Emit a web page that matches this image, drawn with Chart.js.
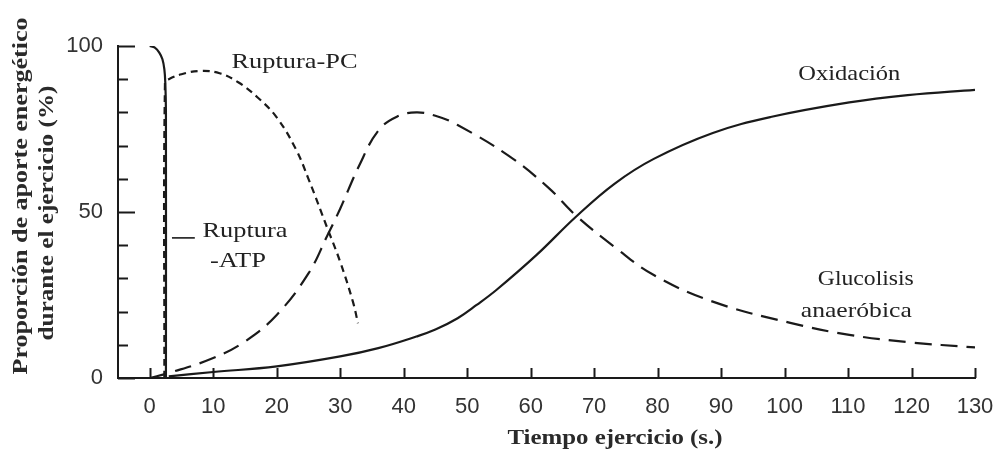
<!DOCTYPE html>
<html>
<head>
<meta charset="utf-8">
<script src="https://cdn.jsdelivr.net/npm/chart.js@4.4.1/dist/chart.umd.min.js"></script>
<style>
  html, body { margin: 0; padding: 0; background: #fff; }
  #wrap { width: 994px; height: 453px; }
</style>
</head>
<body>
<div id="wrap"><canvas id="chart"></canvas></div>
<script>
// Tiempo de ejercicio (s) y proporción de aporte energético (%) de cada vía
const atpTime = [0, 0.8, 1.5, 2, 2.3, 2.45, 2.55, 2.55];
const atpValue = [100, 99.5, 98, 96, 93, 89, 80, 0];

const pcTime = [2.3, 2.4, 3, 5, 8, 11, 14, 17, 20, 23, 25, 28, 30, 32, 32.8];
const pcValue = [0, 89, 90, 91.5, 92.5, 91.8, 89, 84.5, 78.5, 69, 60, 45, 35, 23, 16.5];

const glucTime = [0, 3, 10, 15, 20, 25, 28, 30, 33, 36, 39, 42, 45, 48.5, 56.5, 62.7, 67.1, 73.2, 79.4, 88.7, 100.9, 110.2, 119.4, 130];
const glucValue = [0, 1.5, 6, 11, 19, 31.5, 43, 51, 64, 74.5, 78.8, 80, 79, 76.2, 67, 57.5, 49, 39.5, 31, 23, 16.6, 13, 10.8, 9.2];

const oxTime = [3, 10, 20, 30, 36, 42, 45, 48.5, 51.5, 54.6, 60.9, 67.1, 73.2, 79.4, 88.7, 97.8, 110.2, 119.4, 130];
const oxValue = [0.5, 1.8, 3.5, 6.5, 9, 12.5, 14.6, 18, 22, 26.5, 37, 48.5, 58.5, 66, 73.8, 78.6, 83, 85.2, 86.8];

// ticks
const xTickValues = [0, 10, 20, 30, 40, 50, 60, 70, 80, 90, 100, 110, 120, 130];
const yTickValues = [0, 10, 20, 30, 40, 50, 60, 70, 80, 90, 100];
const yLabelValues = [0, 50, 100];

// text labels on the chart (x in s, y in %)
const notes = [
  { text: "Ruptura-PC", x: 22.8, y: 95.2, w: 126 },
  { text: "Oxidación", x: 110.2, y: 91.6, w: 102 },
  { text: "Ruptura", x: 15.0, y: 44.3, w: 85 },
  { text: "-ATP", x: 13.9, y: 35.2, w: 56 },
  { text: "Glucolisis", x: 112.8, y: 29.8, w: 96 },
  { text: "anaeróbica", x: 111.3, y: 20.2, w: 111 },
];

const ink = "#1a1a1a";
const serif = '"Liberation Serif", "Times New Roman", serif';
const sans = '"Liberation Sans", Arial, sans-serif';

function toPoints(xs, ys) {
  return xs.map((x, i) => ({ x: x, y: ys[i] }));
}

// draw text stretched to a given width (the scan is a bit stretched)
function fitText(ctx, text, cx, cy, width, font, angle) {
  ctx.save();
  ctx.translate(cx, cy);
  if (angle) ctx.rotate(angle);
  ctx.font = font;
  const w = ctx.measureText(text).width;
  ctx.scale(width / w, 1);
  ctx.textAlign = "center";
  ctx.textBaseline = "middle";
  ctx.fillText(text, 0, 0);
  ctx.restore();
}

const decorPlugin = {
  id: "decor",
  afterDraw(chart) {
    const { ctx, scales: { x, y } } = chart;
    ctx.save();
    ctx.strokeStyle = ink;
    ctx.lineWidth = 2;

    // tick marks pointing into the plot
    ctx.beginPath();
    xTickValues.forEach((v) => {
      const px = Math.round(x.getPixelForValue(v)) + 0.5;
      ctx.moveTo(px, y.bottom);
      ctx.lineTo(px, y.bottom - 10);
    });
    yTickValues.forEach((v) => {
      const py = Math.round(y.getPixelForValue(v)) + 0.5;
      const len = v % 50 === 0 ? 17 : 10;
      ctx.moveTo(x.left, py);
      ctx.lineTo(x.left + len, py);
    });
    ctx.stroke();

    // short line pointing at the ATP curve
    ctx.lineWidth = 1.6;
    ctx.beginPath();
    ctx.moveTo(x.getPixelForValue(3.5), y.getPixelForValue(42.2));
    ctx.lineTo(x.getPixelForValue(7.1), y.getPixelForValue(42.2));
    ctx.stroke();

    // curve names
    ctx.fillStyle = "#222";
    notes.forEach((n) => {
      fitText(ctx, n.text, x.getPixelForValue(n.x), y.getPixelForValue(n.y), n.w, "22px " + serif);
    });

    // axis titles
    ctx.fillStyle = "#2a2a2a";
    fitText(ctx, "Tiempo ejercicio (s.)", 615, 439, 215, "bold 21px " + serif);
    fitText(ctx, "Proporción de aporte energético", 22, 196, 357, "bold 20px " + serif, -Math.PI / 2);
    fitText(ctx, "durante el ejercicio (%)", 48, 213, 255, "bold 20px " + serif, -Math.PI / 2);
    ctx.restore();
  },
};

const lineStyle = {
  borderColor: ink,
  borderWidth: 2.2,
  pointRadius: 0,
  fill: false,
};

new Chart(document.getElementById("chart"), {
  type: "line",
  data: {
    datasets: [
      { ...lineStyle, label: "Ruptura ATP", data: toPoints(atpTime, atpValue), tension: 0.3 },
      { ...lineStyle, label: "Ruptura PC", data: toPoints(pcTime, pcValue), tension: 0.4, borderDash: [7, 5] },
      { ...lineStyle, label: "Glucolisis anaeróbica", data: toPoints(glucTime, glucValue), tension: 0.4, borderDash: [17, 9] },
      { ...lineStyle, label: "Oxidación", data: toPoints(oxTime, oxValue), tension: 0.4 },
    ],
  },
  options: {
    responsive: true,
    maintainAspectRatio: false,
    animation: false,
    layout: { padding: { top: 46, right: 19, left: 0, bottom: 0 } },
    plugins: {
      legend: { display: false },
      tooltip: { enabled: false },
    },
    scales: {
      x: {
        type: "linear",
        min: -5,
        max: 130,
        grid: { display: false },
        border: { display: true, color: ink, width: 2 },
        afterBuildTicks: (s) => { s.ticks = xTickValues.map((v) => ({ value: v })); },
        afterFit: (s) => { s.height = 75; s.paddingLeft = 0; s.paddingRight = 0; },
        ticks: {
          padding: 8,
          color: "#333",
          font: { family: sans, size: 22 },
          maxRotation: 0,
          autoSkip: false,
        },
      },
      y: {
        min: 0,
        max: 100,
        grid: { display: false },
        border: { display: true, color: ink, width: 2 },
        afterBuildTicks: (s) => { s.ticks = yLabelValues.map((v) => ({ value: v })); },
        afterFit: (s) => { s.width = 118; },
        ticks: {
          padding: 7,
          color: "#333",
          font: { family: sans, size: 22 },
        },
      },
    },
  },
  plugins: [decorPlugin],
});
</script>
</body>
</html>
